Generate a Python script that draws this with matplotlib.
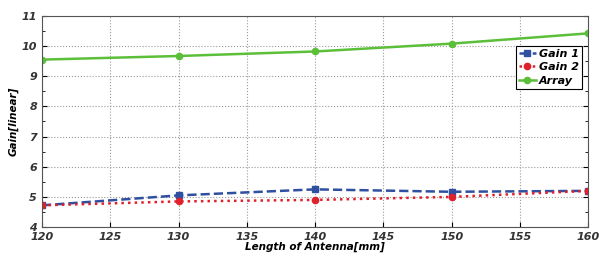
import numpy as np
import matplotlib
matplotlib.use('Agg')
import matplotlib.pyplot as plt
from matplotlib.ticker import MultipleLocator

length = [120, 130, 140, 150, 160]
gain1 = [4.72, 5.05, 5.25, 5.17, 5.20]
gain2 = [4.72, 4.85, 4.90, 5.00, 5.20]
array = [9.55, 9.67, 9.82, 10.08, 10.42]

font = {'style': 'italic', 'weight': 'bold'}

fig = plt.figure(figsize=(5.99, 2.56), dpi=100)
ax = fig.add_axes([0.070, 0.113, 0.912, 0.825])

ax.plot(length, gain1, '--s', color='#2f4fa0', lw=1.8, ms=4.5, label='Gain 1')
ax.plot(length, gain2, ':o', color='#e0202a', lw=1.8, ms=4.5, label='Gain 2')
ax.plot(length, array, '-o', color='#5cbf3a', lw=1.8, ms=4.5, label='Array')

ax.set_xlim(120, 160)
ax.set_ylim(4, 11)
ax.xaxis.set_major_locator(MultipleLocator(5))
ax.yaxis.set_major_locator(MultipleLocator(1))
ax.yaxis.set_minor_locator(MultipleLocator(0.5))
ax.tick_params(which='both', direction='in', right=True, top=False, labelsize=8)
ax.tick_params(which='minor', length=2)
ax.grid(True, linestyle=':', color='#999999', lw=0.8)
for lab in ax.get_xticklabels() + ax.get_yticklabels():
    lab.set_fontstyle('italic')
    lab.set_fontweight('bold')
    lab.set_color('#333333')
for s in ax.spines.values():
    s.set_color('#555555')

ax.set_xlabel('Length of Antenna[mm]', fontsize=7.5, labelpad=0, **font)
ax.set_ylabel('Gain[linear]', fontsize=7.5, labelpad=2, **font)

leg = ax.legend(loc='upper right', bbox_to_anchor=(0.993, 0.87),
                prop={'style': 'italic', 'weight': 'bold', 'size': 8},
                fancybox=False, framealpha=1, edgecolor='black',
                handlelength=1.5, handletextpad=0.3, borderpad=0.3,
                labelspacing=0.3, borderaxespad=0.2)
leg.get_frame().set_linewidth(0.8)

fig.savefig('out.png', dpi=100)
